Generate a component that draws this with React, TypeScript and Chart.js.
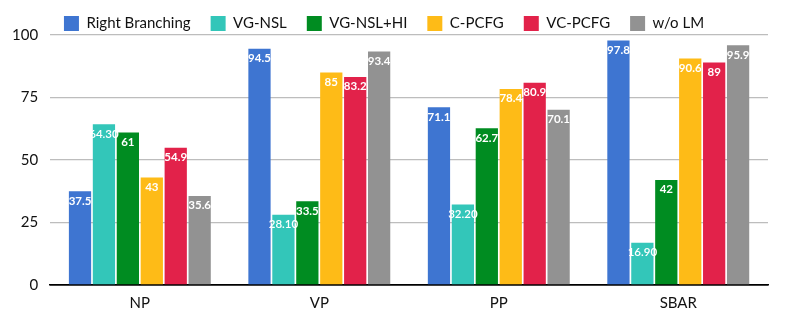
import React, { useEffect, useRef } from "react";
import { Chart, registerables } from "chart.js";

Chart.register(...registerables);

const categories = ["NP", "VP", "PP", "SBAR"];
const seriesNames = ["Right Branching", "VG-NSL", "VG-NSL+HI", "C-PCFG", "VC-PCFG", "w/o LM"];
const rightBranching = [37.5, 94.5, 71.1, 97.8];
const vgNsl = [64.3, 28.1, 32.2, 16.9];
const vgNslHi = [61, 33.5, 62.7, 42];
const cPcfg = [43, 85, 78.4, 90.6];
const vcPcfg = [54.9, 83.2, 80.9, 89];
const woLm = [35.6, 93.4, 70.1, 95.9];
const labelRightBranching = ["37.5", "94.5", "71.1", "97.8"];
const labelVgNsl = ["64.30", "28.10", "32.20", "16.90"];
const labelVgNslHi = ["61", "33.5", "62.7", "42"];
const labelCPcfg = ["43", "85", "78.4", "90.6"];
const labelVcPcfg = ["54.9", "83.2", "80.9", "89"];
const labelWoLm = ["35.6", "93.4", "70.1", "95.9"];
const yTicks = [0, 25, 50, 75, 100];
const colors = ["#3e75d1", "#33c6b9", "#008c21", "#febb17", "#e2224a", "#929292"];

const FONT = "Lato, 'Open Sans', sans-serif";

export default function App() {
  const ref = useRef<HTMLCanvasElement | null>(null);
  useEffect(() => {
    if (!ref.current) return;
    const values = [rightBranching, vgNsl, vgNslHi, cPcfg, vcPcfg, woLm];
    const labels = [labelRightBranching, labelVgNsl, labelVgNslHi, labelCPcfg, labelVcPcfg, labelWoLm];
    const dataLabelPlugin = {
      id: "dataLabels",
      afterDatasetsDraw(chart: any) {
        const ctx = chart.ctx;
        ctx.save();
        ctx.fillStyle = "#ffffff";
        ctx.textAlign = "center";
        ctx.textBaseline = "top";
        chart.data.datasets.forEach((ds: any, i: number) => {
          const meta = chart.getDatasetMeta(i);
          ctx.font = (i === 1 ? "600 " : "bold ") + "11.5px " + FONT;
          meta.data.forEach((bar: any, j: number) => {
            ctx.fillText(labels[i][j], bar.x, bar.y + 4);
          });
        });
        ctx.restore();
      },
    };
    const legendFitPlugin = {
      id: "legendFit",
      afterInit(chart: any) {
        const legend = chart.legend;
        if (!legend) return;
        const orig = legend.fit;
        legend.fit = function () {
          orig.call(this);
          this.height -= 6;
        };
      },
    };
    const chart = new Chart(ref.current, {
      type: "bar",
      data: {
        labels: categories,
        datasets: seriesNames.map((name, i) => ({
          label: name,
          data: values[i],
          backgroundColor: colors[i],
          borderWidth: 0,
          barPercentage: 0.93,
          categoryPercentage: 0.8,
        })),
      },
      options: {
        animation: false,
        responsive: true,
        maintainAspectRatio: false,
        layout: { padding: { left: 0, right: 20, top: -4, bottom: 13 } },
        plugins: {
          tooltip: { enabled: false },
          legend: {
            position: "top",
            labels: {
              boxWidth: 15,
              boxHeight: 15,
              padding: 20,
              color: "#111",
              font: { family: FONT, size: 15 },
            },
          },
        },
        scales: {
          x: {
            grid: { display: false },
            border: { display: true, color: "#000", width: 1.5 },
            ticks: { color: "#111", font: { family: FONT, size: 15 }, padding: 1 },
          },
          y: {
            min: 0,
            max: 100,
            afterBuildTicks(axis: any) {
              axis.ticks = yTicks.map((v) => ({ value: v }));
            },
            border: { display: false },
            grid: {
              color: (c: any) => (c.tick && c.tick.value === 0 ? "#000" : "#bdbdbd"),
              lineWidth: (c: any) => (c.tick && c.tick.value === 0 ? 1.5 : 1.2),
              drawTicks: false,
            },
            ticks: { color: "#111", font: { family: FONT, size: 15 }, padding: 12 },
          },
        },
      },
      plugins: [legendFitPlugin, dataLabelPlugin],
    });
    return () => chart.destroy();
  }, []);
  return (
    <div style={{ position: "fixed", left: 0, top: 0, width: 788, height: 326 }}>
      <canvas ref={ref} />
    </div>
  );
}
